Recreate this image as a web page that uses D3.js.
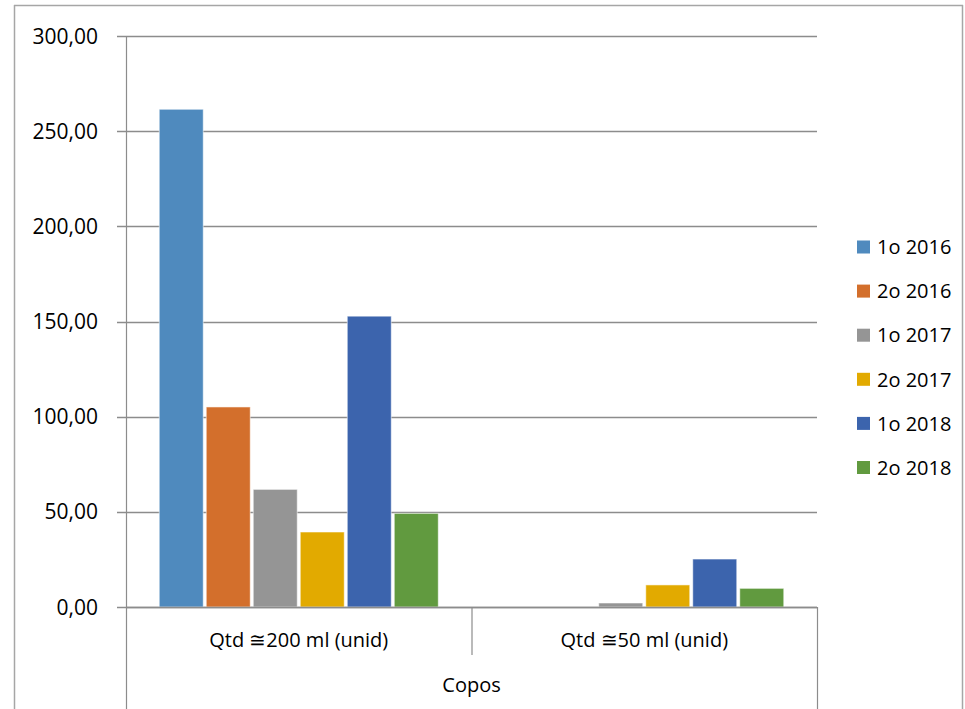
<!DOCTYPE html>
<html><head><meta charset="utf-8">
<script src="https://cdn.jsdelivr.net/npm/d3@7"></script>
<style>
html,body{margin:0;padding:0;background:#fff;}
svg{display:block;font-family:"Open Sans","Noto Sans",sans-serif;}
</style></head>
<body>
<svg id="chart" width="965" height="709"></svg>
<script>
const categories = ["Qtd \u2245200 ml (unid)", "Qtd \u224550 ml (unid)"];
const groupLabel = "Copos";
const series = ["1o 2016", "2o 2016", "1o 2017", "2o 2017", "1o 2018", "2o 2018"];
const colors = ["#4F8ABE", "#D36F2C", "#959595", "#E2AA00", "#3C64AD", "#619A3F"];
const values200 = [261.5, 105.1, 61.8, 39.4, 152.8, 49.2];
const values50 = [0, 0, 2.1, 11.6, 25.2, 9.8];
const yTicks = [0, 50, 100, 150, 200, 250, 300];

(function () {
const svg = d3.select("#chart");
const mLeft = 126, mRight = 817, mTop = 36, mBottom = 607;

const locale = d3.formatLocale({decimal: ",", thousands: ".", grouping: [3], currency: ["R$", ""]});
const fmt = locale.format(".2f");

const y = d3.scaleLinear().domain([0, 300]).range([mBottom, mTop]);
const x0 = d3.scaleBand().domain(categories).range([mLeft, mRight]).padding(0);
const x1 = d3.scaleBand().domain(series).range([0, x0.bandwidth()]).paddingInner(0.064).paddingOuter(0.707);
const color = d3.scaleOrdinal().domain(series).range(colors);

// outer frame
svg.append("line").attr("x1", 14).attr("x2", 963).attr("y1", 5.5).attr("y2", 5.5).attr("stroke", "#a6a6a6").attr("stroke-width", 1.5);
svg.append("line").attr("x1", 14.5).attr("x2", 14.5).attr("y1", 5).attr("y2", 709).attr("stroke", "#a6a6a6").attr("stroke-width", 1.5);
svg.append("line").attr("x1", 962.5).attr("x2", 962.5).attr("y1", 5).attr("y2", 709).attr("stroke", "#a6a6a6").attr("stroke-width", 1.5);

// gridlines
svg.append("g").selectAll("line").data(yTicks).join("line")
  .attr("x1", mLeft - 9).attr("x2", mRight)
  .attr("y1", d => Math.round(y(d)) + 0.5).attr("y2", d => Math.round(y(d)) + 0.5)
  .attr("stroke", "#8c8c8c").attr("stroke-width", 1.5);

// y labels
svg.append("g").selectAll("text").data(yTicks).join("text")
  .attr("x", 98).attr("y", d => y(d)).attr("dy", "0.36em")
  .attr("text-anchor", "end").attr("font-size", 21).attr("fill", "#000")
  .text(d => fmt(d));

// bars
const data = categories.map((c, i) => ({cat: c, vals: i === 0 ? values200 : values50}));
const groups = svg.append("g").selectAll("g").data(data).join("g")
  .attr("transform", d => `translate(${x0(d.cat)},0)`);
groups.selectAll("rect").data(d => series.map((s, i) => ({s, v: d.vals[i]})).filter(e => e.v > 0)).join("rect")
  .attr("x", d => x1(d.s)).attr("width", x1.bandwidth())
  .attr("y", d => y(d.v)).attr("height", d => y(0) - y(d.v))
  .attr("fill", d => color(d.s))
  .attr("stroke", "rgba(255,255,255,0.55)").attr("stroke-width", 1);

// axes lines
svg.append("line").attr("x1", mLeft + 0.5).attr("x2", mLeft + 0.5).attr("y1", mTop).attr("y2", 709).attr("stroke", "#8c8c8c").attr("stroke-width", 1.2);
svg.append("line").attr("x1", mLeft).attr("x2", mRight).attr("y1", Math.round(y(0)) + 0.5).attr("y2", Math.round(y(0)) + 0.5).attr("stroke", "#8c8c8c").attr("stroke-width", 1.5);
// category separators
svg.append("line").attr("x1", x0(categories[1]) + 0.5).attr("x2", x0(categories[1]) + 0.5).attr("y1", mBottom).attr("y2", 655).attr("stroke", "#8c8c8c").attr("stroke-width", 1.2);
svg.append("line").attr("x1", mRight + 0.5).attr("x2", mRight + 0.5).attr("y1", mBottom).attr("y2", 709).attr("stroke", "#8c8c8c").attr("stroke-width", 1.2);

// category labels
svg.append("g").selectAll("text").data(categories).join("text")
  .attr("x", d => x0(d) + x0.bandwidth() / 2).attr("y", 647)
  .attr("text-anchor", "middle").attr("font-size", 20).attr("fill", "#000")
  .text(d => d);
svg.append("text").attr("x", (mLeft + mRight) / 2).attr("y", 692)
  .attr("text-anchor", "middle").attr("font-size", 20).attr("fill", "#000").text(groupLabel);

// legend
const lg = svg.append("g").selectAll("g").data(series).join("g")
  .attr("transform", (d, i) => `translate(857,${247 + i * 44.1})`);
lg.append("rect").attr("x", 0).attr("y", -6.5).attr("width", 13).attr("height", 13).attr("fill", d => color(d));
lg.append("text").attr("x", 20).attr("y", 0).attr("dy", "0.36em").attr("font-size", 20).attr("fill", "#000").text(d => d);
})();
</script>
</body></html>
